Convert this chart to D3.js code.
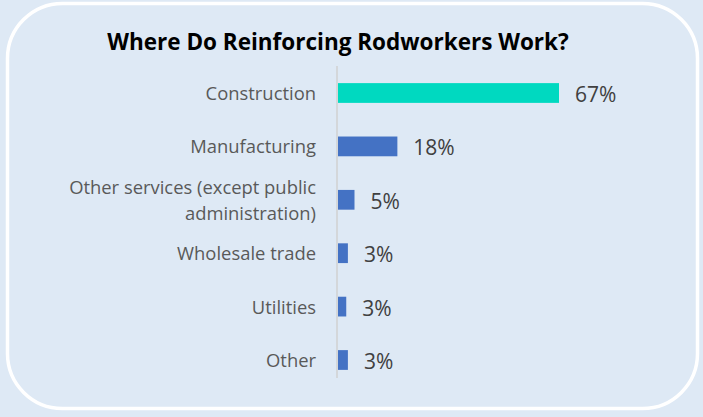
<!DOCTYPE html>
<html>
<head>
<meta charset="utf-8">
<script src="https://cdn.jsdelivr.net/npm/d3@7"></script>
<style>
  body { margin: 0; background: #dee9f5; }
  svg { display: block; }
</style>
</head>
<body>
<svg width="703" height="417"></svg>
<script>
var categories = ["Construction", "Manufacturing", "Other services (except public administration)", "Wholesale trade", "Utilities", "Other"];
var labelLines = [["Construction"], ["Manufacturing"], ["Other services (except public", "administration)"], ["Wholesale trade"], ["Utilities"], ["Other"]];
var values = [67, 18, 5, 3, 2.5, 3];
var valueLabels = ["67%", "18%", "5%", "3%", "3%", "3%"];

var svg = d3.select("svg"),
  width = +svg.attr("width"),
  height = +svg.attr("height");

var font = "'Open Sans', sans-serif";

svg.append("rect")
  .attr("width", width)
  .attr("height", height)
  .attr("fill", "#dee9f5");

// rounded white frame
svg.append("rect")
  .attr("x", 7.5)
  .attr("y", 3.5)
  .attr("width", 690)
  .attr("height", 405)
  .attr("rx", 55)
  .attr("ry", 55)
  .attr("fill", "none")
  .attr("stroke", "#ffffff")
  .attr("stroke-width", 3.5);

svg.append("text")
  .attr("x", 338)
  .attr("y", 50)
  .attr("text-anchor", "middle")
  .attr("font-family", font)
  .attr("font-weight", "bold")
  .attr("font-size", 22.5)
  .attr("fill", "#000")
  .text("Where Do Reinforcing Rodworkers Work?");

var x0 = 338;
var x = d3.scaleLinear().domain([0, 67]).range([x0, 559]);
var y = d3.scaleBand().domain(categories).range([66.3, 386.7]).paddingInner(0.63).paddingOuter(0.315);

// axis line
svg.append("line")
  .attr("x1", x0 - 1)
  .attr("x2", x0 - 1)
  .attr("y1", 66)
  .attr("y2", 378)
  .attr("stroke", "#d0d0d0")
  .attr("stroke-width", 1.5);

svg.selectAll(".bar")
  .data(values)
  .enter().append("rect")
  .attr("class", "bar")
  .attr("x", x0)
  .attr("y", function(d, i) { return y(categories[i]); })
  .attr("width", function(d) { return x(d) - x0; })
  .attr("height", y.bandwidth())
  .attr("fill", function(d, i) { return i === 0 ? "#00d9c0" : "#4472c4"; });

var labels = svg.selectAll(".cat")
  .data(labelLines)
  .enter().append("text")
  .attr("class", "cat")
  .attr("text-anchor", "end")
  .attr("font-family", font)
  .attr("font-size", 18.4)
  .attr("fill", "#595959")
  .attr("transform", function(d, i) {
    var cy = y(categories[i]) + y.bandwidth() / 2;
    return "translate(316," + (cy + 7 - (d.length - 1) * 13) + ")";
  });

labels.selectAll("tspan")
  .data(function(d) { return d; })
  .enter().append("tspan")
  .attr("x", 0)
  .attr("dy", function(d, j) { return j === 0 ? 0 : 26; })
  .text(function(d) { return d; });

svg.selectAll(".val")
  .data(values)
  .enter().append("text")
  .attr("class", "val")
  .attr("x", function(d) { return x(d) + 16; })
  .attr("y", function(d, i) { return y(categories[i]) + y.bandwidth() / 2 + 9; })
  .attr("font-family", font)
  .attr("font-size", 21)
  .attr("fill", "#404040")
  .text(function(d, i) { return valueLabels[i]; });
</script>
</body>
</html>
